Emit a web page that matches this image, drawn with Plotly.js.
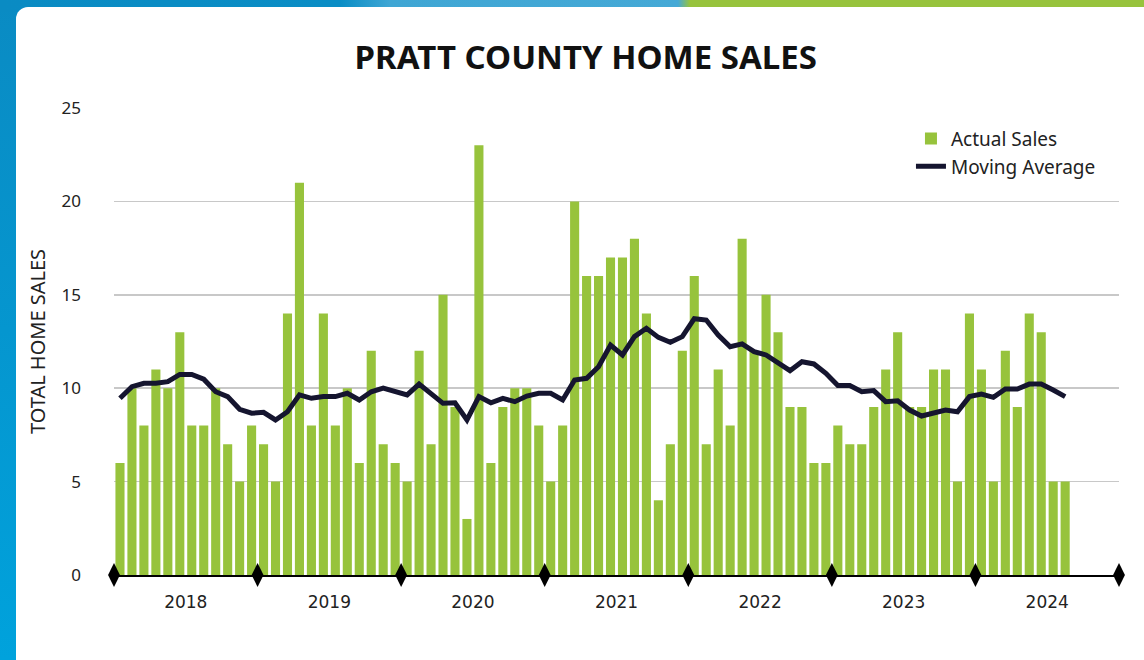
<!DOCTYPE html>
<html>
<head>
<meta charset="utf-8">
<script src="https://cdn.plot.ly/plotly-3.0.1.min.js"></script>
<style>
  html, body { margin:0; padding:0; width:1144px; height:660px; overflow:hidden; }
  #left { position:absolute; left:0; top:0; width:20px; height:660px;
          background:linear-gradient(to bottom, #0a8bc3 0%, #0596cf 50%, #00a2dc 100%); }
  #top { position:absolute; left:0; top:0; width:1144px; height:12px;
         background:linear-gradient(to right, #0a8bc3 0px, #0a8dc5 340px, #3fa6d4 390px, #45a9d6 678px, #97c33c 690px, #97c33c 1144px); }
  #card { position:absolute; left:16px; top:7px; width:1160px; height:680px; background:#fff; border-radius:12px; }
  #chart { position:absolute; left:0; top:0; width:1144px; height:660px; }
</style>
</head>
<body>
<div id="left"></div>
<div id="top"></div>
<div id="card"></div>
<div id="chart"></div>
<script>
// Monthly data, Jan 2018 - Aug 2024
const years = ["2018","2019","2020","2021","2022","2023","2024"];
const actualSales = [
  6,10,8,11,10,13,8,8,10,7,5,8,
  7,5,14,21,8,14,8,10,6,12,7,6,
  5,12,7,15,9,3,23,6,9,10,10,8,
  5,8,20,16,16,17,17,18,14,4,7,12,
  16,7,11,8,18,12,15,13,9,9,6,6,
  8,7,7,9,11,13,9,9,11,11,5,14,
  11,5,12,9,14,13,5,5
];
const movingAverage = [
  9.46,10.08,10.26,10.26,10.35,10.74,10.74,10.48,9.81,9.55,8.87,8.66,
  8.71,8.30,8.74,9.64,9.46,9.55,9.55,9.73,9.37,9.81,10.0,9.81,
  9.64,10.22,9.69,9.19,9.22,8.30,9.55,9.22,9.46,9.28,9.58,9.73,
  9.73,9.37,10.44,10.53,11.15,12.31,11.78,12.76,13.21,12.72,12.46,12.76,
  13.72,13.65,12.85,12.22,12.37,11.96,11.78,11.37,10.94,11.42,11.30,10.80,
  10.14,10.14,9.81,9.87,9.28,9.33,8.83,8.51,8.66,8.83,8.74,9.55,
  9.69,9.51,9.96,9.96,10.22,10.22,9.90,9.55
];

const monthIdx = actualSales.map((_, i) => i);
const yearTickPos = years.map((_, k) => k * 12 + 5.5);
const yearBounds = [];
for (let k = 0; k <= years.length; k++) yearBounds.push(k * 12 - 0.5);

const traces = [
  {
    type: 'bar', name: 'Actual Sales', x: monthIdx, y: actualSales,
    marker: { color: '#97c33c' }, width: 0.76, hoverinfo: 'y'
  },
  {
    type: 'scatter', mode: 'lines', name: 'Moving Average', x: monthIdx, y: movingAverage,
    line: { color: '#15152f', width: 5, shape: 'linear' }
  },
  {
    type: 'scatter', mode: 'markers', showlegend: false, hoverinfo: 'skip',
    x: yearBounds, y: yearBounds.map(() => 0), cliponaxis: false,
    marker: { symbol: 'diamond-tall', size: 17, color: '#000' }
  }
];

const layout = {
  width: 1144, height: 660,
  paper_bgcolor: 'rgba(0,0,0,0)', plot_bgcolor: 'rgba(0,0,0,0)',
  margin: { l: 114, r: 25, t: 108, b: 85 },
  showlegend: true,
  title: {
    text: '<b>PRATT COUNTY HOME SALES</b>',
    font: { family: 'Noto Sans', size: 33, color: '#111' },
    x: 0.512, xanchor: 'center', y: 0.913, yanchor: 'middle', xref: 'container', yref: 'container'
  },
  font: { family: 'Noto Sans', color: '#222' },
  bargap: 0.2,
  xaxis: {
    range: [-0.5, 83.5], showgrid: false, zeroline: false,
    tickmode: 'array', tickvals: yearTickPos, ticktext: years,
    ticks: '', ticklabelstandoff: 11,
    tickfont: { family: 'DejaVu Sans', size: 17, color: '#222' },
    showline: true, linecolor: '#000', linewidth: 2, fixedrange: true
  },
  yaxis: {
    range: [0, 25], dtick: 5, tick0: 0,
    showgrid: true, gridcolor: '#c8c8c8', gridwidth: 1.5,
    zeroline: false, showline: false, ticks: '', ticklabelstandoff: 32,
    tickfont: { family: 'Noto Sans', size: 17, color: '#222' },
    title: { text: 'TOTAL HOME SALES', font: { family: 'Noto Sans', size: 20, color: '#222' }, standoff: 10 },
    fixedrange: true
  },
  legend: {
    x: 0.793, y: 0.975, xanchor: 'left', yanchor: 'top',
    bgcolor: 'rgba(0,0,0,0)', font: { family: 'Noto Sans', size: 19, color: '#222' },
    tracegroupgap: 4
  }
};

Plotly.newPlot('chart', traces, layout, { displayModeBar: false, staticPlot: true });
</script>
</body>
</html>
